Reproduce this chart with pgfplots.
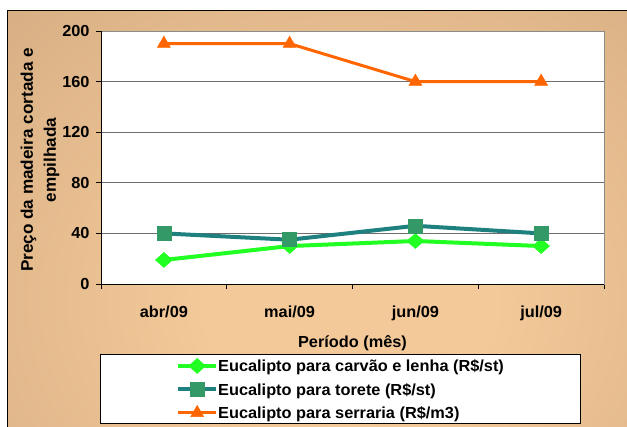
\documentclass[border=0pt]{standalone}
\usepackage{fontspec}
\setmainfont{Liberation Sans}[FakeStretch=1.02]
\usepackage{pgfplots}
\pgfplotsset{compat=1.18}

\definecolor{bglight}{HTML}{F3C999}
\definecolor{bgdark}{HTML}{C8A078}
\definecolor{lenha}{HTML}{22FF22}
\definecolor{toreteline}{HTML}{1F8080}
\definecolor{toretemark}{HTML}{339966}
\definecolor{serraria}{HTML}{FF6600}
\definecolor{gridgray}{HTML}{6E6E6E}
\definecolor{framegray}{HTML}{8C8C8C}

% soft radial fill of the chart area
\pgfdeclareradialshading{chartbg}{\pgfpoint{0bp}{0bp}}{%
  color(0bp)=(bglight); color(8bp)=(bglight);
  color(38bp)=(bgdark); color(50bp)=(bgdark)}

\newcommand\chartfont{\fontsize{16bp}{22bp}\selectfont\bfseries}

\begin{document}
\begin{tikzpicture}[x=1bp,y=1bp]
\useasboundingbox (0,0) rectangle (627,426);
\begin{scope}
  \clip (7,-5) rectangle (640,415.5);
  \shade[shading=chartbg] (-101,-255) rectangle (801,507);
\end{scope}
\draw[line width=1bp] (7,-5) rectangle (640,415.5);
% legend frame
\draw[line width=1bp, fill=white] (100,3) rectangle (580,72);

\begin{axis}[
  at={(101bp,142bp)}, anchor=south west,
  scale only axis, width=503bp, height=253bp,
  axis background/.style={fill=white},
  xmin=-0.5, xmax=3.5, ymin=0, ymax=200,
  axis line style={framegray, line width=1bp},
  tick pos=left, tick align=outside,
  major tick length=5bp,
  tick style={black, line width=1bp},
  ytick={0,40,...,200},
  yticklabel style={xshift=-3bp},
  xtick={-0.5,0.5,1.5,2.5,3.5},
  xticklabels={},
  extra x ticks={0,1,2,3},
  extra x tick labels={abr/09,mai/09,jun/09,jul/09},
  extra x tick style={major tick length=0bp, grid=none,
    xticklabel style={yshift=-18bp}},
  ymajorgrids,
  grid style={gridgray, line width=0.8bp},
  tick label style={font=\chartfont},
  /pgf/number format/assume math mode=true,
  every axis x label/.style={at={(axis description cs:0.5,0)},
    anchor=base, yshift=-63bp, font=\chartfont},
  every axis y label/.style={at={(axis description cs:-0.121,0.49)},
    rotate=90, anchor=center, align=center,
    font=\fontsize{16.8bp}{23bp}\selectfont\bfseries},
  xlabel={Período (mês)},
  ylabel={Preço da madeira cortada e\\empilhada},
  legend cell align=left,
  legend style={at={(axis description cs:0.1491,-0.2767)},
    anchor=north west, draw=none, fill=none,
    font=\chartfont, inner sep=0bp,
    nodes={inner xsep=0bp, inner ysep=3bp, text height=14.6bp, text depth=2.9bp}},
  legend image code/.code={%
    \draw[mark repeat=2, mark phase=2, #1]
      plot coordinates {(0bp,0bp) (19bp,0bp) (38bp,0bp)};},
]
\addplot[lenha, line width=4bp, mark=diamond*, mark size=7.5bp,
  mark options={line width=0.5bp, xscale=1.5}]
  coordinates {(0,19) (1,30) (2,34) (3,30)};
\addlegendentry{Eucalipto para carvão e lenha (R\$/st)}
\addplot[toreteline, line width=4bp, mark=square*, mark size=7bp,
  mark options={fill=toretemark, draw=toretemark, line width=0.5bp}]
  coordinates {(0,40) (1,35) (2,46) (3,40)};
\addlegendentry{Eucalipto para torete (R\$/st)}
\addplot[serraria, line width=3bp, mark=triangle*, mark size=7.5bp,
  mark options={line width=0.5bp}]
  coordinates {(0,190) (1,190) (2,160) (3,160)};
\addlegendentry{Eucalipto para serraria (R\$/m3)}
\draw[black, line width=1bp] (rel axis cs:0,1) -- (rel axis cs:0,0) -- (rel axis cs:1,0);
\end{axis}
\end{tikzpicture}
\end{document}
